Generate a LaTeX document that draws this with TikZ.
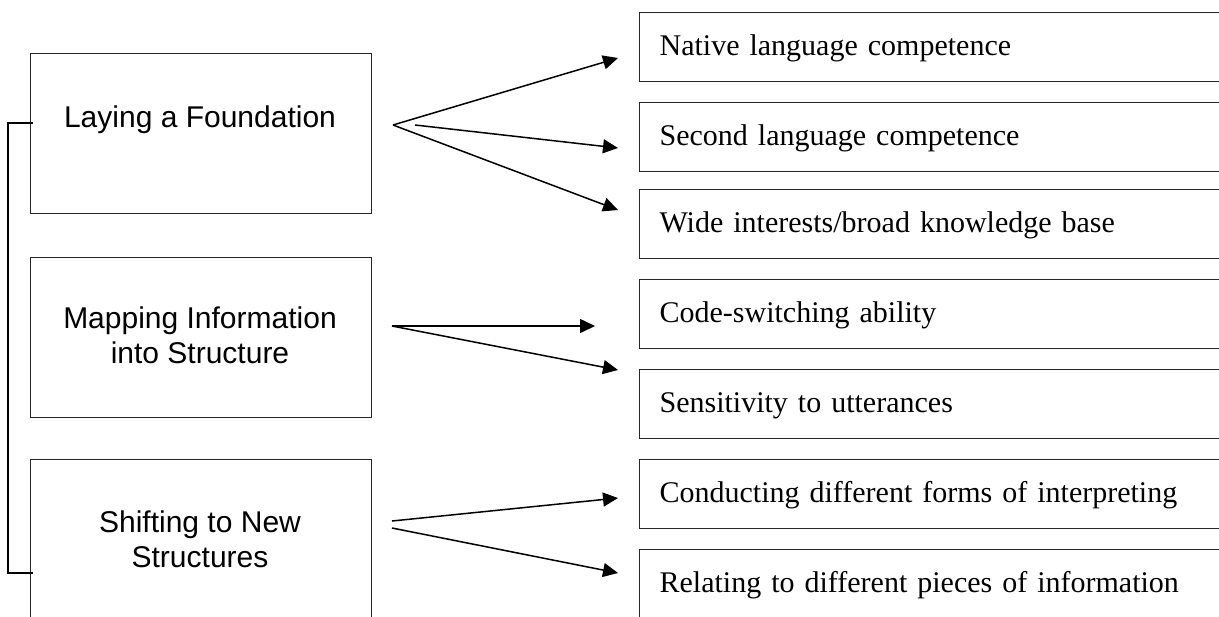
\documentclass[tikz,border=0pt]{standalone}
\usepackage{fontspec}
\setmainfont{Liberation Serif}
\newfontfamily\headfont{Liberation Sans}
\usetikzlibrary{arrows.meta}
\begin{document}
\begin{tikzpicture}[x=0.5pt,y=-0.5pt,
  stage/.style={draw=black!85, line width=0.6pt, minimum width=170.5pt,
    minimum height=80pt, inner sep=0pt, anchor=north west},
  stagetext/.style={font=\headfont\fontsize{15}{17.5}\selectfont, align=center,
    inner sep=0pt, anchor=north},
  skill/.style={draw=black!85, line width=0.6pt, anchor=north west,
    minimum width=300pt, text width=280pt, align=left, inner xsep=10pt,
    inner ysep=0pt, text height=21.5pt, text depth=13pt,
    font=\fontsize{15}{18}\selectfont},
  link/.style={line width=0.75pt, -{Triangle[length=7.5pt,width=7pt]}},
  bracket/.style={line width=0.75pt}]
\clip (0,0) rectangle (1219,616);

% stages on the left
\node[stage] (s1) at (30,53) {};
\node[stage] (s2) at (30,257) {};
\node[stage] (s3) at (30,459) {};
\node[stagetext] (t1) at (200,105.5) {Laying a Foundation};
\node[stagetext] (t2) at (200,306) {Mapping Information\\into Structure};
\node[stagetext] (t3) at (200,510) {Shifting to New\\Structures};

% bracket joining the first and last stage
\draw[bracket] ([shift={(3,70)}]s1.north west) -- ++(-25,0)
  |- ([shift={(3,114)}]s3.north west);

% competences on the right
\node[skill] (rA) at (639,12)  {Native language competence};
\node[skill] (rB) at (639,102) {Second language competence};
\node[skill] (rC) at (639,189) {Wide interests/broad knowledge base};
\node[skill] (rD) at (639,279) {Code-switching ability};
\node[skill] (rE) at (639,369) {Sensitivity to utterances};
\node[skill] (rF) at (639,459) {Conducting different forms of interpreting};
\node[skill] (rG) at (639,549) {Relating to different pieces of information};

% arrow origins
\coordinate (f1) at (393,125);
\coordinate (f1b) at (415,125);
\coordinate (f2) at (392,326);
\coordinate (f3a) at (392,521);
\coordinate (f3b) at (392,528);

\draw[link] (f1) -- ([shift={(-21,46)}]rA.north west);
\draw[link] (f1b) -- ([shift={(-21,46)}]rB.north west);
\draw[link] (f1) -- ([shift={(-21,21)}]rC.north west);
\draw[link] (f2) -- ([shift={(-44,47)}]rD.north west);
\draw[link] (f2) -- ([shift={(-21,1)}]rE.north west);
\draw[link] (f3a) -- ([shift={(-21,39)}]rF.north west);
\draw[link] (f3b) -- ([shift={(-21,24)}]rG.north west);
\end{tikzpicture}
\end{document}
